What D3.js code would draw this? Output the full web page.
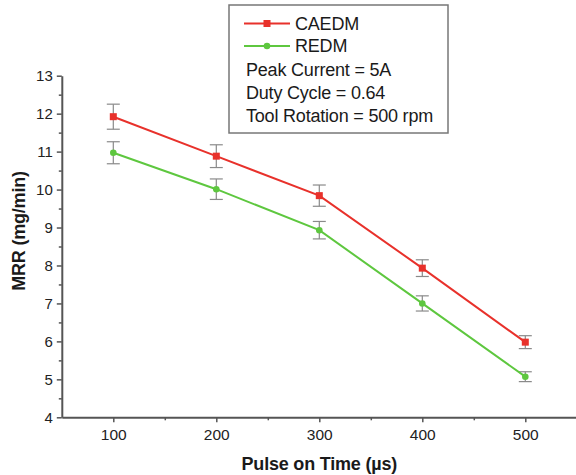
<!DOCTYPE html>
<html>
<head>
<meta charset="utf-8">
<script src="https://cdn.jsdelivr.net/npm/d3@7"></script>
<style>
  html, body { margin: 0; padding: 0; background: #fff; }
  svg { display: block; font-family: "Liberation Sans", Arial, sans-serif; }
</style>
</head>
<body>
<svg id="chart" width="576" height="475"></svg>
<script>
// ---- data ----
const pulseOnTime = [100, 200, 300, 400, 500];
const caedmMRR = [11.92, 10.88, 9.84, 7.93, 5.98];
const caedmErr = [0.33, 0.30, 0.28, 0.22, 0.17];
const redmMRR = [10.97, 10.01, 8.93, 7.00, 5.07];
const redmErr = [0.29, 0.27, 0.23, 0.20, 0.13];
const yTicks = [4, 5, 6, 7, 8, 9, 10, 11, 12, 13];
const yMinorTicks = [4.5, 5.5, 6.5, 7.5, 8.5, 9.5, 10.5, 11.5, 12.5];
const xTicks = [100, 200, 300, 400, 500];
const xMinorTicks = [150, 250, 350, 450, 550];
const legendNotes = ["Peak Current = 5A", "Duty Cycle = 0.64", "Tool Rotation = 500 rpm"];

const series = [
  { name: "CAEDM", values: caedmMRR, err: caedmErr, color: "#e8312b", marker: "square" },
  { name: "REDM", values: redmMRR, err: redmErr, color: "#5ec73f", marker: "circle" }
];

const svg = d3.select("#chart");
const x = d3.scaleLinear().domain([50, 550]).range([61.8, 576.8]);
const y = d3.scaleLinear().domain([4, 13]).range([417.3, 75.7]);
const axisColor = "#555";

// axes
const gy = svg.append("g").attr("transform", `translate(${x(50)},0)`);
gy.call(d3.axisLeft(y).tickValues(yTicks).tickSize(5).tickSizeOuter(0).tickPadding(4).tickFormat(d3.format("d")));
const gyMinor = svg.append("g").attr("transform", `translate(${x(50)},0)`);
gyMinor.call(d3.axisLeft(y).tickValues(yMinorTicks).tickSize(3).tickSizeOuter(0).tickFormat(""));
gyMinor.select(".domain").remove();

const gx = svg.append("g").attr("transform", `translate(0,${y(4)})`);
gx.call(d3.axisBottom(x).tickValues(xTicks).tickSize(5).tickSizeOuter(0).tickPadding(7).tickFormat(d3.format("d")));
const gxMinor = svg.append("g").attr("transform", `translate(0,${y(4)})`);
gxMinor.call(d3.axisBottom(x).tickValues(xMinorTicks).tickSize(3).tickSizeOuter(0).tickFormat(""));
gxMinor.select(".domain").remove();

svg.selectAll(".domain").attr("stroke", axisColor).attr("stroke-width", 2);
svg.selectAll(".tick line").attr("stroke", axisColor).attr("stroke-width", 1.5);
gy.selectAll(".tick text").attr("font-size", 15).attr("fill", "#222")
  .attr("font-family", "'Liberation Sans', Arial, sans-serif");
gx.selectAll(".tick text").attr("font-size", 15.5).attr("fill", "#222")
  .attr("font-family", "'Liberation Sans', Arial, sans-serif");

// axis titles
svg.append("text")
  .attr("x", (x(50) + x(550)) / 2).attr("y", 470)
  .attr("text-anchor", "middle").attr("font-size", 18).attr("font-weight", "bold")
  .attr("fill", "#1a1a1a").attr("letter-spacing", -0.2)
  .text("Pulse on Time (\u00B5s)");
svg.append("text")
  .attr("transform", "translate(25,231) rotate(-90)")
  .attr("text-anchor", "middle").attr("font-size", 18).attr("font-weight", "bold")
  .attr("fill", "#1a1a1a").attr("letter-spacing", -0.2)
  .text("MRR (mg/min)");

// series
const line = d3.line().x((d, i) => x(pulseOnTime[i])).y(d => y(d));
function drawMarker(g, type, color, cx, cy) {
  if (type === "square") {
    g.append("rect").attr("x", cx - 3.5).attr("y", cy - 3.5).attr("width", 7).attr("height", 7).attr("fill", color);
  } else {
    g.append("circle").attr("cx", cx).attr("cy", cy).attr("r", 3.3).attr("fill", color);
  }
}
series.forEach(s => {
  const g = svg.append("g");
  // error bars
  s.values.forEach((v, i) => {
    const cx = x(pulseOnTime[i]);
    const top = y(v + s.err[i]), bot = y(v - s.err[i]);
    g.append("line").attr("x1", cx).attr("x2", cx).attr("y1", top).attr("y2", bot)
      .attr("stroke", "#8a8a8a").attr("stroke-width", 1.2);
    [top, bot].forEach(yy => g.append("line").attr("x1", cx - 6.5).attr("x2", cx + 6.5)
      .attr("y1", yy).attr("y2", yy).attr("stroke", "#8a8a8a").attr("stroke-width", 1.2));
  });
  g.append("path").datum(s.values).attr("d", line).attr("fill", "none")
    .attr("stroke", s.color).attr("stroke-width", 2);
  s.values.forEach((v, i) => drawMarker(g, s.marker, s.color, x(pulseOnTime[i]), y(v)));
});

// legend
const lg = svg.append("g");
lg.append("rect").attr("x", 229).attr("y", 5).attr("width", 219).attr("height", 128)
  .attr("fill", "#fff").attr("stroke", "#777").attr("stroke-width", 1.5);
series.forEach((s, i) => {
  const ly = 23.5 + i * 22.5;
  lg.append("line").attr("x1", 244).attr("x2", 290).attr("y1", ly).attr("y2", ly)
    .attr("stroke", s.color).attr("stroke-width", 2);
  drawMarker(lg, s.marker, s.color, 267, ly);
  lg.append("text").attr("x", 295).attr("y", ly + 6).attr("font-size", 18)
    .attr("fill", "#1a1a1a").attr("letter-spacing", -0.2).text(s.name);
});
legendNotes.forEach((t, i) => {
  lg.append("text").attr("x", 246).attr("y", 76 + i * 22.8).attr("font-size", 18)
    .attr("fill", "#1a1a1a").attr("letter-spacing", -0.2).text(t);
});
</script>
</body>
</html>
